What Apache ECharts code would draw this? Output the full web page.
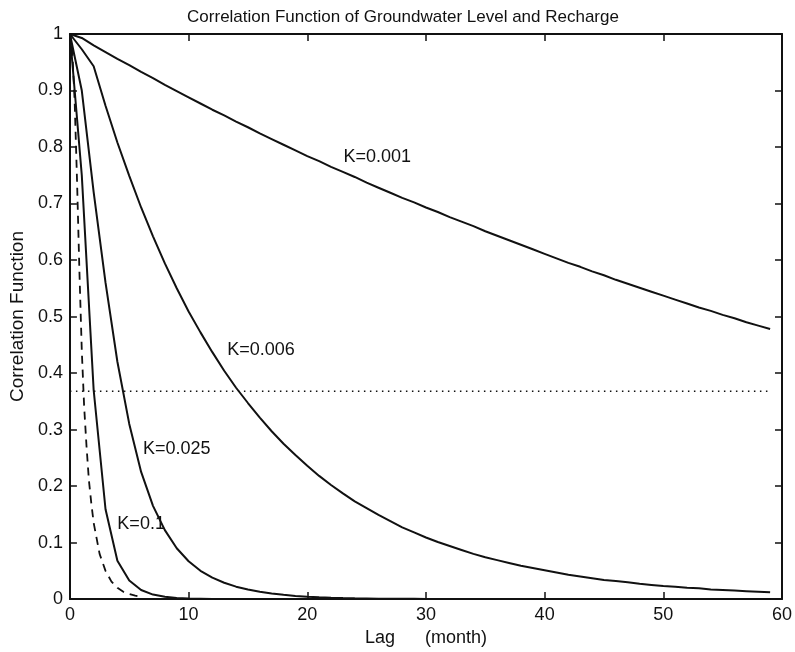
<!DOCTYPE html>
<html>
<head>
<meta charset="utf-8">
<script src="https://cdn.jsdelivr.net/npm/echarts@6/dist/echarts.min.js"></script>
<style>
  html, body { margin: 0; padding: 0; background: #fff; }
  #chart { width: 795px; height: 652px; }
</style>
</head>
<body>
<div id="chart"></div>
<script>
// Correlation function vs lag (months) for several recharge constants K
const lagMonthly = Array.from({ length: 60 }, (_, i) => i); // 0..59

const corrK001 = [
  1.000, 0.993, 0.980, 0.968, 0.956, 0.945, 0.933, 0.922, 0.910, 0.899,
  0.888, 0.877, 0.866, 0.856, 0.845, 0.835, 0.824, 0.814, 0.804, 0.794,
  0.784, 0.775, 0.765, 0.756, 0.747, 0.737, 0.728, 0.719, 0.710, 0.702,
  0.693, 0.685, 0.676, 0.668, 0.660, 0.651, 0.643, 0.635, 0.627, 0.619,
  0.611, 0.603, 0.595, 0.588, 0.580, 0.573, 0.565, 0.558, 0.551, 0.544,
  0.537, 0.530, 0.523, 0.516, 0.510, 0.503, 0.497, 0.490, 0.484, 0.478
];

const corrK006 = [
  1.000, 0.973, 0.943, 0.873, 0.808, 0.749, 0.693, 0.642, 0.594, 0.550,
  0.509, 0.472, 0.437, 0.404, 0.374, 0.347, 0.321, 0.297, 0.275, 0.255,
  0.236, 0.218, 0.202, 0.187, 0.173, 0.161, 0.149, 0.138, 0.127, 0.118,
  0.109, 0.101, 0.094, 0.087, 0.080, 0.074, 0.069, 0.064, 0.059, 0.055,
  0.051, 0.047, 0.043, 0.040, 0.037, 0.034, 0.032, 0.030, 0.027, 0.025,
  0.023, 0.022, 0.020, 0.019, 0.017, 0.016, 0.015, 0.014, 0.013, 0.012
];

const corrK025 = [
  1.000, 0.900, 0.720, 0.560, 0.420, 0.310, 0.225, 0.165, 0.122, 0.090,
  0.067, 0.050, 0.038, 0.029, 0.022, 0.017, 0.013, 0.010, 0.0075, 0.0057,
  0.0043, 0.0033, 0.0025, 0.0019, 0.0014, 0.0011, 0.0008, 0.0006, 0.0005, 0.0004,
  0.0003, 0.0002, 0.0002, 0.0001, 0.0001, 0.0001, 0, 0, 0, 0,
  0, 0, 0, 0, 0, 0, 0, 0, 0, 0,
  0, 0, 0, 0, 0, 0, 0, 0, 0, 0
];

const corrK1 = [
  1.000, 0.750, 0.370, 0.159, 0.068, 0.033, 0.016, 0.008, 0.004, 0.002,
  0.001, 0.0005, 0, 0, 0, 0, 0, 0, 0, 0,
  0, 0, 0, 0, 0, 0, 0, 0, 0, 0,
  0, 0, 0, 0, 0, 0, 0, 0, 0, 0,
  0, 0, 0, 0, 0, 0, 0, 0, 0, 0,
  0, 0, 0, 0, 0, 0, 0, 0, 0, 0
];

// finely sampled dashed reference curve
const lagFine = [0, 0.2, 0.4, 0.6, 0.8, 1.0, 1.2, 1.4, 1.6, 1.8, 2.0, 2.5, 3.0, 3.5, 4.0, 4.5, 5.0, 5.5, 6.0];
const corrDashed = [1.000, 0.970, 0.880, 0.740, 0.580, 0.440, 0.340, 0.270, 0.210, 0.170, 0.135, 0.080, 0.050, 0.031, 0.020, 0.013, 0.009, 0.006, 0.004];

// 1/e reference level
const eFoldLag = [0, 59];
const eFoldLevel = [0.368, 0.368];

const curveLabels = ['K=0.001', 'K=0.006', 'K=0.025', 'K=0.1'];
const curveLabelAt = [[25.9, 0.783], [16.1, 0.441], [9.0, 0.265], [6.0, 0.132]];

const xTicks = [0, 10, 20, 30, 40, 50, 60];
const yTicks = [0, 0.1, 0.2, 0.3, 0.4, 0.5, 0.6, 0.7, 0.8, 0.9, 1];

const pairs = (xs, ys) => xs.map((x, i) => [x, ys[i]]);

const FONT = '"Liberation Sans", Arial, Helvetica, sans-serif';
const INK = '#111';

const chart = echarts.init(document.getElementById('chart'), null, { renderer: 'canvas' });

const axisCommon = {
  type: 'value',
  axisLine: { show: true, onZero: false, lineStyle: { color: INK, width: 2 } },
  axisTick: { show: true, inside: true, length: 7, lineStyle: { color: INK, width: 1.5 } },
  splitLine: { show: false }
};

const lineSeries = (name, data, type, width) => ({
  name, type: 'line', data, showSymbol: false, symbol: 'none',
  xAxisIndex: 0, yAxisIndex: 0, animation: false, silent: true,
  lineStyle: { color: INK, width: width, type: type }
});

chart.setOption({
  backgroundColor: '#fff',
  animation: false,
  title: {
    text: 'Correlation Function of Groundwater Level and Recharge',
    left: 398, top: 4, textAlign: 'center',
    textStyle: { fontFamily: FONT, fontSize: 17, fontWeight: 'normal', color: INK }
  },
  grid: { left: 65, right: 11, top: 34, bottom: 50 },
  xAxis: [
    Object.assign({}, axisCommon, {
      position: 'bottom', min: 0, max: 60, interval: 10,
      name: 'Lag      (month)', nameLocation: 'middle', nameGap: 27,
      nameTextStyle: { fontFamily: FONT, fontSize: 18, color: INK },
      axisLabel: { margin: 7, fontFamily: FONT, fontSize: 18, color: INK,
        formatter: v => xTicks.includes(v) ? String(v) : '' }
    }),
    Object.assign({}, axisCommon, {
      position: 'top', min: 0, max: 60, interval: 10,
      axisLabel: { show: false }
    })
  ],
  yAxis: [
    Object.assign({}, axisCommon, {
      position: 'left', min: 0, max: 1, interval: 0.1,
      name: 'Correlation Function', nameLocation: 'middle', nameGap: 36, nameRotate: 90,
      nameTextStyle: { fontFamily: FONT, fontSize: 19, color: INK },
      axisLabel: { margin: 7, fontFamily: FONT, fontSize: 18, color: INK,
        formatter: v => {
          const t = yTicks.find(y => Math.abs(y - v) < 1e-9);
          return t === undefined ? '' : (t === 0 || t === 1 ? String(t) : t.toFixed(1));
        } }
    }),
    Object.assign({}, axisCommon, {
      position: 'right', min: 0, max: 1, interval: 0.1,
      axisLabel: { show: false }
    })
  ],
  series: [
    lineSeries('K=0.001', pairs(lagMonthly, corrK001), 'solid', 2),
    lineSeries('K=0.006', pairs(lagMonthly, corrK006), 'solid', 2),
    lineSeries('K=0.025', pairs(lagMonthly, corrK025), 'solid', 2),
    lineSeries('K=0.1', pairs(lagMonthly, corrK1), 'solid', 2),
    lineSeries('dashed', pairs(lagFine, corrDashed), [8, 6], 1.8),
    lineSeries('1/e', pairs(eFoldLag, eFoldLevel), [1.5, 4.5], 1.5)
  ]
});

// curve annotations placed in data coordinates
chart.setOption({
  graphic: curveLabels.map((txt, i) => {
    const p = chart.convertToPixel({ xAxisIndex: 0, yAxisIndex: 0 }, curveLabelAt[i]);
    return {
      type: 'text', x: p[0], y: p[1], silent: true,
      style: { text: txt, fontFamily: FONT, fontSize: 18, fill: INK,
        align: 'center', verticalAlign: 'middle' }
    };
  })
});
</script>
</body>
</html>
